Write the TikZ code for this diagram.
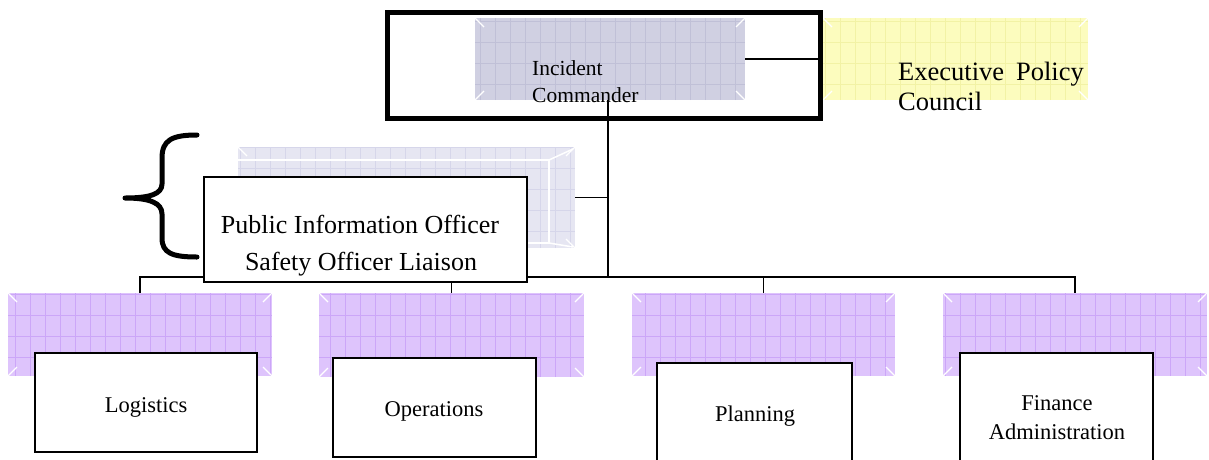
\documentclass[tikz,border=0pt]{standalone}
\usepackage{fontspec}
\setmainfont{Liberation Serif}
\definecolor{greyfill}{RGB}{208,208,226}
\definecolor{greyline}{RGB}{192,192,215}
\definecolor{yelfill}{RGB}{252,252,190}
\definecolor{yelline}{RGB}{242,242,165}
\definecolor{purfill}{RGB}{222,196,252}
\definecolor{purline}{RGB}{204,166,248}
\definecolor{stafffill}{RGB}{230,230,242}
\definecolor{staffline}{RGB}{214,214,234}
\newcommand\patfill[2]{%
  \begin{scope}
    \clip (#1.north west) rectangle (#1.south east);
    \draw[#2, line width=0.6pt, xstep=15pt, ystep=21pt] (#1.north west) grid (#1.south east);
  \end{scope}
  \draw[white, line width=1.3pt] (#1.north west) -- ++(9,9);
  \draw[white, line width=1.3pt] (#1.north east) -- ++(-9,9);
  \draw[white, line width=1.3pt] (#1.south west) -- ++(9,-9);
  \draw[white, line width=1.3pt] (#1.south east) -- ++(-9,-9);
}
\begin{document}
\begin{tikzpicture}[x=1pt,y=-1pt,
  patbox/.style={draw=none, inner sep=0, outer sep=0, anchor=north west},
  whitebox/.style={draw=black, fill=white, line width=2pt, inner sep=0, outer sep=0, anchor=north west},
  link/.style={draw=black, line width=1.8pt},
  lbl/.style={inner sep=0, font=\fontsize{22.5}{27}\selectfont}]
\useasboundingbox (0,0) rectangle (1209,459);

% patterned boxes (top)
\node[patbox, fill=greyfill, minimum width=270, minimum height=82] (icpat) at (475,18) {};
\patfill{icpat}{greyline}
\node[patbox, fill=yelfill, minimum width=265, minimum height=82] (epc) at (823,18) {};
\patfill{epc}{yelline}
\node[draw=black, line width=5pt, inner sep=0, outer sep=0, anchor=north west, minimum width=433, minimum height=106] (icframe) at (387,12) {};

% staff patterned box
\node[patbox, fill=stafffill, minimum width=337, minimum height=101] (staffpat) at (238,147) {};
\patfill{staffpat}{staffline}
\draw[white, line width=1.5pt] (238,160) -- (549,160) -- (549,243) -- (238,243);
\draw[white, line width=1.5pt] (549,160) -- (573,149);
\draw[white, line width=1.5pt] (549,243) -- (573,247);

% section patterned boxes
\node[patbox, fill=purfill, minimum width=264, minimum height=83] (logp) at (8,293) {};
\patfill{logp}{purline}
\node[patbox, fill=purfill, minimum width=265, minimum height=84] (opsp) at (319,293) {};
\patfill{opsp}{purline}
\node[patbox, fill=purfill, minimum width=263, minimum height=83] (planp) at (632,293) {};
\patfill{planp}{purline}
\node[patbox, fill=purfill, minimum width=264, minimum height=83] (finp) at (943,293) {};
\patfill{finp}{purline}

% connectors
\coordinate (trunk) at (608,277);
\draw[link] (icpat.east) -- (epc.west);
\draw[link] (icpat.south -| trunk) -- (trunk);
\draw[link] (staffpat.east) -- (staffpat.east -| trunk);
\draw[link] (logp.north) |- (finp.north |- trunk) -- (finp.north);
\draw[link] (opsp.north) -- (opsp.north |- trunk);
\draw[link] (planp.north) -- (planp.north |- trunk);

% staff white box
\node[whitebox, line width=1.8pt, minimum width=323, minimum height=105] (staff) at (204,177) {};
\node[inner sep=0, anchor=base, font=\fontsize{26}{30}\selectfont] (pio) at (360,233) {Public Information Officer};
\node[inner sep=0, anchor=base, font=\fontsize{26}{30}\selectfont] (sol) at (361,270) {Safety Officer Liaison};

% brace
\draw[line width=5pt, line cap=round, line join=round]
  (197,135) .. controls (172,135) and (162,140) .. (162,158) -- (162,184)
  .. controls (162,194) and (150,198) .. (125,198)
  .. controls (150,198) and (162,203) .. (162,214) -- (162,238)
  .. controls (162,253) and (172,257) .. (197,257);

% white section boxes
\node[whitebox, minimum width=222, minimum height=99] (log) at (35,353) {};
\node[whitebox, minimum width=203, minimum height=99] (ops) at (333,358) {};
\node[whitebox, minimum width=195, minimum height=115] (plan) at (657,363) {};
\node[whitebox, minimum width=193, minimum height=125] (fin) at (960,353) {};

% texts
\node[inner sep=0, anchor=base west, font=\fontsize{21.5}{24}\selectfont] (ic1) at (532,75) {Incident};
\node[inner sep=0, anchor=base west, font=\fontsize{21.5}{24}\selectfont] (ic2) at (532,102) {Commander};
\node[inner sep=0, anchor=base west, font=\fontsize{26.5}{30}\selectfont] (ep1) at (898,80) {Executive\hspace{0.45em}Policy};
\node[inner sep=0, anchor=base west, font=\fontsize{26.5}{30}\selectfont] (ep2) at (898,110) {Council};
\node[lbl, anchor=base] (logt) at (146,412) {Logistics};
\node[lbl, anchor=base] (opst) at (434,416) {Operations};
\node[lbl, anchor=base] (plant) at (755,421) {Planning};
\node[lbl, anchor=base] (fint1) at (1057,410) {Finance};
\node[lbl, anchor=base] (fint2) at (1057,439) {Administration};
\end{tikzpicture}
\end{document}
